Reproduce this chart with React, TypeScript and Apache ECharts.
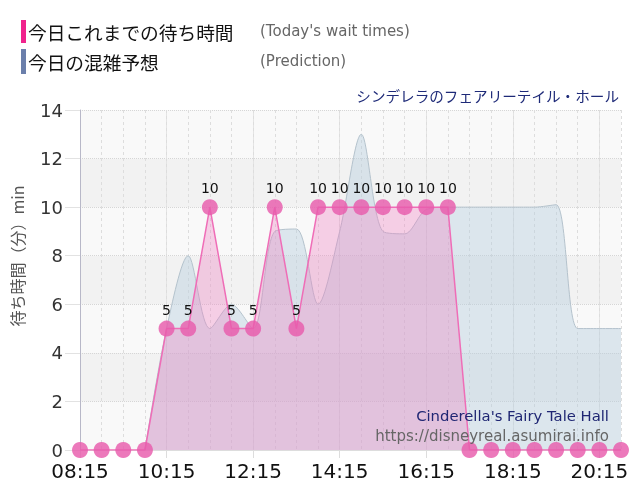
import * as echarts from 'echarts';
import { useEffect, useRef } from 'react';

const TIMES = [
  '08:15', '08:45', '09:15', '09:45', '10:15', '10:45', '11:15', '11:45', '12:15', '12:45',
  '13:15', '13:45', '14:15', '14:45', '15:15', '15:45', '16:15', '16:45', '17:15', '17:45',
  '18:15', '18:45', '19:15', '19:45', '20:15', '20:45',
];

// 今日これまでの待ち時間 (分)
const WAIT_TIMES = [0, 0, 0, 0, 5, 5, 10, 5, 5, 10, 5, 10, 10, 10, 10, 10, 10, 10, 0, 0, 0, 0, 0, 0, 0, 0];

// 今日の混雑予想 (分) — 開園前は予想なし
const PREDICTION: Array<number | string> = [
  '-', '-', '-', 0, 5, 8, 5, 6, 5, 9, 9.1, 6, 9, 13, 9, 8.9, 9.9, 10, 10, 10, 10, 10, 10.1, 5, 5, 5,
];

const ATTRACTION_JA = 'シンデレラのフェアリーテイル・ホール';
const ATTRACTION_EN = "Cinderella's Fairy Tale Hall";
const SITE_URL = 'https://disneyreal.asumirai.info';

const JP_FONT = '"Noto Sans CJK JP", sans-serif';
const LATIN_FONT = '"DejaVu Sans", Verdana, sans-serif';

export default function App() {
  const ref = useRef<HTMLDivElement | null>(null);

  useEffect(() => {
    if (!ref.current) return undefined;
    const chart = echarts.init(ref.current, undefined, { renderer: 'svg' });

    chart.setOption({
      animation: false,
      title: {
        text: ATTRACTION_JA,
        right: 16,
        top: 83,
        textStyle: { fontSize: 14.6, fontWeight: 'normal', color: '#1e2a78', fontFamily: JP_FONT },
      },
      grid: { left: 80, right: 19, top: 110, bottom: 50 },
      xAxis: [
        {
          type: 'category',
          data: TIMES,
          boundaryGap: false,
          axisLine: { show: true, lineStyle: { color: '#dddddd' } },
          axisTick: { show: true, interval: 3, length: 8, lineStyle: { color: '#dddddd' } },
          axisLabel: { interval: 3, margin: 11, color: '#111', fontSize: 20, fontFamily: LATIN_FONT },
          splitLine: { show: true, interval: 3, lineStyle: { color: '#e4e4e4', type: 'solid' } },
        },
        {
          // 30分ごとの細い破線グリッド用
          type: 'category',
          data: TIMES,
          boundaryGap: false,
          position: 'bottom',
          axisLine: { show: false },
          axisTick: { show: false },
          axisLabel: { show: false },
          splitLine: { show: true, interval: 0, lineStyle: { color: '#dddddd', type: [3, 3] } },
        },
      ],
      yAxis: {
        type: 'value',
        min: 0,
        max: 14,
        interval: 2,
        axisLine: { show: true, lineStyle: { color: '#b8b8c8' } },
        axisTick: { show: true, length: 15, lineStyle: { color: '#e2e2e2' } },
        axisLabel: { margin: 17, color: '#333', fontSize: 18, fontFamily: LATIN_FONT },
        splitLine: { show: true, lineStyle: { color: '#d6d6d6', type: 'dotted' } },
        splitArea: { show: true, areaStyle: { color: ['#f9f9f9', '#f2f2f2'] } },
      },
      graphic: [
        { type: 'rect', shape: { x: 21, y: 20, width: 5, height: 23 }, style: { fill: '#f0238d' } },
        {
          type: 'text',
          style: {
            text: '今日これまでの待ち時間', x: 28, y: 31, fill: '#111',
            font: `18.7px ${JP_FONT}`, verticalAlign: 'middle', textVerticalAlign: 'middle',
          },
        },
        {
          type: 'text',
          style: {
            text: "(Today's wait times)", x: 260, y: 31, fill: '#666',
            font: `15px ${LATIN_FONT}`, verticalAlign: 'middle', textVerticalAlign: 'middle',
          },
        },
        { type: 'rect', shape: { x: 21, y: 49, width: 5, height: 25 }, style: { fill: '#6b7fab' } },
        {
          type: 'text',
          style: {
            text: '今日の混雑予想', x: 28, y: 61, fill: '#111',
            font: `18.7px ${JP_FONT}`, verticalAlign: 'middle', textVerticalAlign: 'middle',
          },
        },
        {
          type: 'text',
          style: {
            text: '(Prediction)', x: 260, y: 61, fill: '#666',
            font: `15px ${LATIN_FONT}`, verticalAlign: 'middle', textVerticalAlign: 'middle',
          },
        },
        {
          type: 'text',
          x: 17,
          y: 256,
          rotation: Math.PI / 2,
          style: {
            text: '待ち時間（分）min', x: 0, y: 0, fill: '#555',
            font: `16px ${JP_FONT}`,
            align: 'center', textAlign: 'center', verticalAlign: 'middle', textVerticalAlign: 'middle',
          },
        },
        {
          type: 'text',
          z: 100,
          style: {
            text: ATTRACTION_EN, x: 609, y: 415, fill: '#1f2673',
            font: `14.8px ${LATIN_FONT}`,
            align: 'right', textAlign: 'right', verticalAlign: 'middle', textVerticalAlign: 'middle',
          },
        },
        {
          type: 'text',
          z: 100,
          style: {
            text: SITE_URL, x: 609, y: 436, fill: '#666',
            font: `15px ${LATIN_FONT}`,
            align: 'right', textAlign: 'right', verticalAlign: 'middle', textVerticalAlign: 'middle',
          },
        },
      ],
      series: [
        {
          name: '今日の混雑予想',
          type: 'line',
          data: PREDICTION,
          smooth: 0.3,
          symbol: 'none',
          lineStyle: { color: '#b4c2cc', width: 1 },
          areaStyle: { color: 'rgba(182,204,222,0.6)' },
          z: 2,
        },
        {
          name: '今日これまでの待ち時間',
          type: 'line',
          data: WAIT_TIMES,
          symbol: 'circle',
          symbolSize: 16,
          showSymbol: true,
          showAllSymbol: true,
          itemStyle: { color: 'rgba(232,92,172,0.82)' },
          lineStyle: { color: '#ef6db7', width: 1.5 },
          areaStyle: { color: 'rgba(238,125,192,0.5)' },
          label: {
            show: true,
            position: 'top',
            distance: 4,
            color: '#111',
            fontSize: 14,
            fontFamily: LATIN_FONT,
            formatter: (p: { value: number }) => (p.value > 0 ? String(p.value) : ''),
          },
          labelLayout: { hideOverlap: false },
          z: 3,
        },
      ],
    });

    return () => {
      chart.dispose();
    };
  }, []);

  return <div ref={ref} style={{ position: 'fixed', left: 0, top: 0, width: 640, height: 500 }} />;
}
